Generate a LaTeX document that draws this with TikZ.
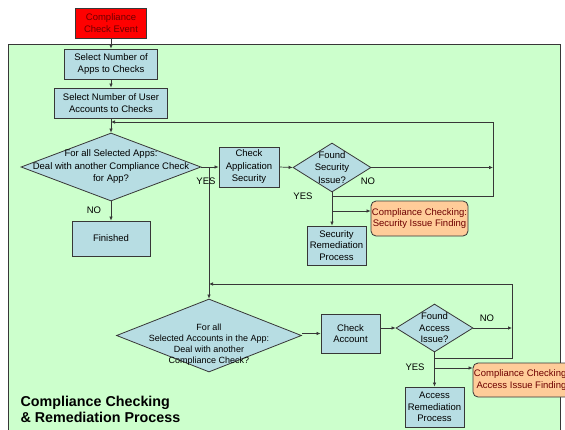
\documentclass[tikz,border=0pt]{standalone}
\usepackage{fontspec}
\setmainfont{Liberation Sans}
\usetikzlibrary{shapes.geometric,arrows.meta}
\definecolor{bggreen}{RGB}{204,255,204}
\definecolor{boxblue}{RGB}{183,221,227}
\definecolor{findorange}{RGB}{255,204,153}
\definecolor{textred}{RGB}{110,0,0}
\definecolor{linegray}{RGB}{55,55,55}
\tikzset{
    procbox/.style={draw=linegray, fill=boxblue, align=center, inner sep=0pt, line width=0.8pt},
    decbox/.style={draw=linegray, fill=boxblue, diamond, inner sep=0pt, line width=0.8pt},
    findbox/.style={draw=linegray, fill=findorange, rounded corners=5pt, align=center, text=textred, inner sep=0pt, line width=0.8pt},
    flow/.style={draw=linegray, line width=0.7pt, ->},
}
\begin{document}
\begin{tikzpicture}[x=1pt, y=-1pt, font=\fontsize{9.5}{11.5}\selectfont, >={Latex[length=4pt,width=3.5pt]}]
        \useasboundingbox (0,0) rectangle (565,429);
        \draw[fill=bggreen, draw=linegray, line width=1pt] (8,440) -- (8,44) -- (560,44) -- (560,440);

        \node[procbox, fill=red, text=textred, minimum width=71pt, minimum height=30pt] (event) at (111,23) {Compliance\\Check Event};
        \node[procbox, minimum width=93pt, minimum height=30pt] (selapps) at (111,64) {Select Number of\\Apps to Checks};
        \node[procbox, minimum width=113pt, minimum height=30pt] (selaccs) at (111,103) {Select Number of User\\Accounts to Checks};

        \node[decbox, minimum width=180pt, minimum height=68pt] (appdia) at (111,167) {};
        \node[align=center, font=\fontsize{9.5}{12.5}\selectfont] (appq) at (appdia) {For all Selected Apps:\\Deal with another Compliance Check\\for App?};
        \node[procbox, minimum width=78pt, minimum height=35pt] (finished) at (111,238.5) {Finished};

        \node[procbox, minimum width=60pt, minimum height=40pt, font=\fontsize{9.5}{12.5}\selectfont] (chkapp) at (249,167) {Check\\Application\\Security};
        \node[decbox, minimum width=78pt, minimum height=49pt] (secdia) at (332,167.5) {};
        \node[align=center, font=\fontsize{9.5}{12.5}\selectfont] (secq) at (secdia) {Found\\Security\\Issue?};
        \node[procbox, minimum width=59pt, minimum height=39pt] (secrem) at (336.5,245.5) {Security\\Remediation\\Process};
        \node[findbox, minimum width=97pt, minimum height=35pt] (secfind) at (419.5,218.5) {Compliance Checking:\\Security Issue Finding};

        \node[decbox, minimum width=185pt, minimum height=73pt] (accdia) at (209,335.5) {};
        \node[align=center, font=\fontsize{9}{11}\selectfont] (accq) at (209,345) {For all\\Selected Accounts in the App:\\Deal with another\\Compliance Check?};
        \node[procbox, minimum width=59pt, minimum height=39pt] (chkacc) at (350.5,333.5) {Check\\Account};
        \node[decbox, minimum width=77pt, minimum height=48pt] (accdiab) at (434.5,328) {};
        \node[align=center] (accissue) at (accdiab) {Found\\Access\\Issue?};
        \node[procbox, minimum width=59pt, minimum height=40pt] (accrem) at (434.5,407) {Access\\Remediation\\Process};
        \node[findbox, minimum width=97pt, minimum height=34pt] (accfind) at (521.5,380) {Compliance Checking:\\Access Issue Finding};

        \coordinate (appback) at (111,122);
        \coordinate (appcorner) at (493,122);
        \coordinate (secback) at (493,196);
        \coordinate (secfork) at (332,211);
        \coordinate (accback) at (209,284);
        \coordinate (acccorner) at (512,284);
        \coordinate (accloop) at (512,358);
        \coordinate (accfork) at (434.5,368);

        \draw[flow] (event) -- (selapps);
        \draw[flow] (selapps) -- (selaccs);
        \draw[flow] (selaccs) -- (appdia.north);
        \draw[flow] (appdia.east) -- (chkapp.west);
        \draw[flow] (appdia.south) -- (finished.north);
        \draw[flow] (chkapp.east) -- (secdia.west);
        \draw[flow] (secdia.east) -- (secdia.east -| secback);
        \draw[flow] (secdia.south) -- (secdia.south |- secrem.north);
        \draw[flow] (secdia.south |- secback) -- (secback) -- (appcorner) -- (appback);
        \draw[flow] (secfork) -- (secfork -| secfind.west);

        \draw[flow] (accdia.north |- appdia.east) -- (accdia.north);
        \draw[flow] (accdia.east |- chkacc.west) -- (chkacc.west);
        \draw[flow] (chkacc.east |- accdiab.west) -- (accdiab.west);
        \draw[flow] (accdiab.east) -- (accdiab.east -| accloop);
        \draw[flow] (accdiab.south) -- (accrem.north);
        \draw[flow] (accdiab.south |- accloop) -- (accloop) -- (acccorner) -- (accback);
        \draw[flow] (accfork) -- (accfork -| accfind.west);

        \node (yesapp) at (206,181) {YES};
        \node (noapp) at (94,210) {NO};
        \node (nosec) at (368,181) {NO};
        \node (yessec) at (303,196) {YES};
        \node (noacc) at (487,318) {NO};
        \node (yesacc) at (415,367) {YES};

        \node[font=\fontsize{14.3}{15.5}\selectfont\bfseries, align=left, anchor=north west] (title) at (17,393) {Compliance Checking\\\& Remediation Process};
    \end{tikzpicture}
\end{document}
